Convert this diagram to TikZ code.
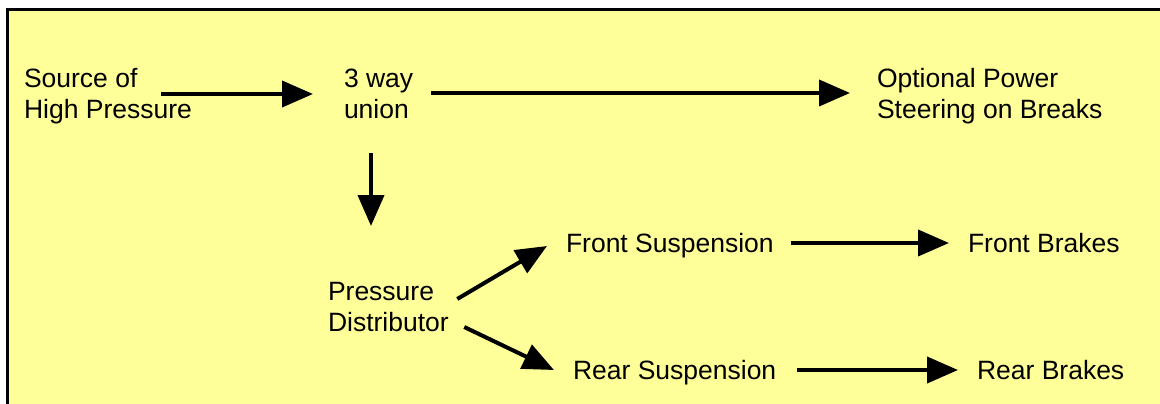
\documentclass[tikz,border=0pt]{standalone}
\usepackage{fontspec}
\setmainfont{Liberation Sans}
\usetikzlibrary{arrows.meta}

\definecolor{paleyellow}{RGB}{255,255,153}

\begin{document}
\begin{tikzpicture}[x=1pt, y=-1pt,
  text node/.style={anchor=base west, inner sep=0pt, outer sep=0pt, align=left,
    font=\fontsize{26.5}{31}\selectfont},
  flow/.style={line width=4pt, -{Triangle[length=31pt,width=26pt]}}]

\useasboundingbox (0,0) rectangle (1160,404);
\fill[paleyellow] (9,11) rectangle (1160,404);
\draw[line width=3pt] (7.5,404) -- (7.5,9.5) -- (1160,9.5);

% two-line labels sit on the baseline of their last line
\node[text node] (src) at (24,118) {Source of\\High Pressure};
\node[text node] (union) at (344,118) {3 way\\union};
\node[text node] (opt) at (877,118) {Optional Power\\Steering on Breaks};
\node[text node] (dist) at (328,331) {Pressure\\Distributor};
\node[text node] (front) at (566,252) {Front Suspension};
\node[text node] (rear) at (573,379) {Rear Suspension};
\node[text node] (fbrakes) at (968,252) {Front Brakes};
\node[text node] (rbrakes) at (977,379) {Rear Brakes};

\draw[flow] ([shift={(-31,-24)}]src.base east) -- ([shift={(-31,-24)}]union.base west);
\draw[flow] ([shift={(18,-25)}]union.base east) -- ([shift={(-27,-25)}]opt.base west);
\draw[flow] ([shift={(27,35)}]union.base west) -- ([shift={(43,-105)}]dist.base west);
\draw[flow] ([shift={(8.5,-32)}]dist.base east) -- ([shift={(-19,-6)}]front.base west);
\draw[flow] ([shift={(15.5,-4)}]dist.base east) -- ([shift={(-19,-9)}]rear.base west);
\draw[flow] ([shift={(17,-9)}]front.base east) -- ([shift={(-19,-9)}]fbrakes.base west);
\draw[flow] ([shift={(20.5,-9)}]rear.base east) -- ([shift={(-19,-9)}]rbrakes.base west);

\end{tikzpicture}
\end{document}
